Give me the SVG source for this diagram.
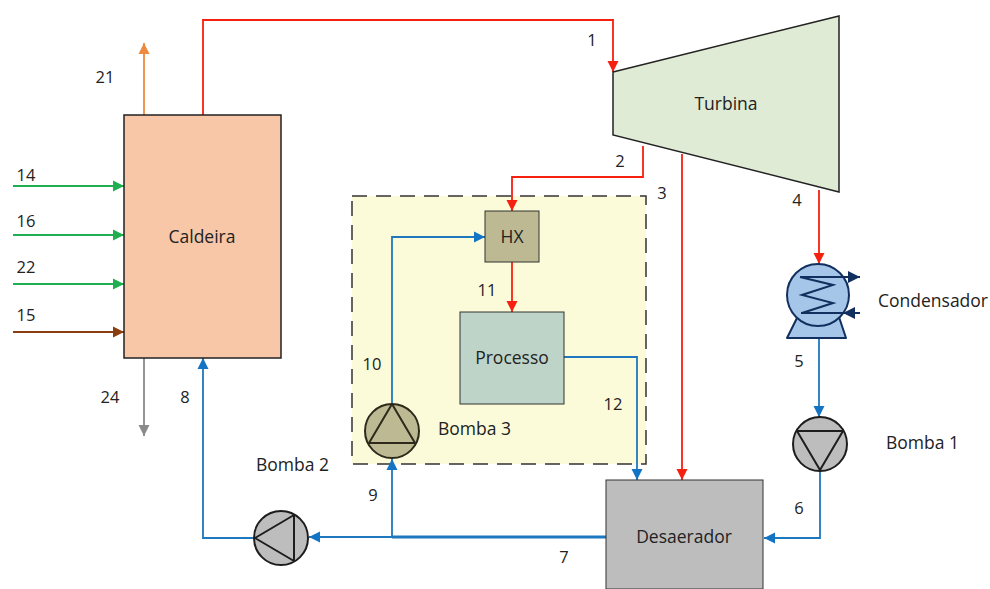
<svg xmlns="http://www.w3.org/2000/svg" width="990" height="589" viewBox="0 0 990 589">
<style>
text{font-family:"Open Sans","Liberation Sans",sans-serif;font-size:17.5px;fill:#222}
.n{font-size:16.5px}
.lab{text-anchor:middle}
.c{fill:none;stroke-width:1.8}
.r{stroke:#f5200f}.b{stroke:#1f78bd}.g{stroke:#1fae50}.o{stroke:#ed8a3f}.br{stroke:#8a3d0e}.y{stroke:#8a8a8a}
.box{stroke:#222;stroke-width:1.5}
.pump{stroke:#1d1d1d;stroke-width:2;fill:#bdbdbd}
.pl{fill:none;stroke:#1d1d1d;stroke-width:2;stroke-linejoin:round}
</style>
<defs>
<marker id="mr" markerUnits="userSpaceOnUse" markerWidth="12" markerHeight="12" refX="11" refY="6" orient="auto"><path d="M0 0.5L11 6L0 11.5Z" fill="#f5200f"/></marker>
<marker id="mb" markerUnits="userSpaceOnUse" markerWidth="12" markerHeight="12" refX="11" refY="6" orient="auto"><path d="M0 0.5L11 6L0 11.5Z" fill="#1474c4"/></marker>
<marker id="mg" markerUnits="userSpaceOnUse" markerWidth="12" markerHeight="12" refX="11" refY="6" orient="auto"><path d="M0 0.5L11 6L0 11.5Z" fill="#1fae50"/></marker>
<marker id="mo" markerUnits="userSpaceOnUse" markerWidth="12" markerHeight="12" refX="11" refY="6" orient="auto"><path d="M0 0.5L11 6L0 11.5Z" fill="#ed8a3f"/></marker>
<marker id="mbr" markerUnits="userSpaceOnUse" markerWidth="12" markerHeight="12" refX="11" refY="6" orient="auto"><path d="M0 0.5L11 6L0 11.5Z" fill="#8a3d0e"/></marker>
<marker id="my" markerUnits="userSpaceOnUse" markerWidth="12" markerHeight="12" refX="11" refY="6" orient="auto"><path d="M0 0.5L11 6L0 11.5Z" fill="#8a8a8a"/></marker>
<marker id="mn" markerUnits="userSpaceOnUse" markerWidth="14" markerHeight="14" refX="12" refY="7" orient="auto"><path d="M0 1L12 7L0 13Z" fill="#12305f"/></marker>
</defs>
<g id="volume3"><rect x="352" y="196" width="294" height="268" fill="#fbfbd9" stroke="#333" stroke-width="1.5" stroke-dasharray="15 9"/></g>
<g id="connectors">
<path class="c r" marker-end="url(#mr)" d="M203 115V20H613V72"/>
<path class="c r" marker-end="url(#mr)" d="M643 146V177H512V211"/>
<path class="c r" marker-end="url(#mr)" d="M512 262V312"/>
<path class="c r" marker-end="url(#mr)" d="M682 154V480"/>
<path class="c r" marker-end="url(#mr)" d="M819 190V264"/>
<path class="c b" marker-end="url(#mb)" d="M819 338V417"/>
<path class="c b" marker-end="url(#mb)" d="M820 470V538H764"/>
<path class="c b" marker-end="url(#mb)" d="M392 537H309"/>
<path class="c b" style="stroke-width:3" d="M606 537H392"/>
<path class="c b" marker-end="url(#mb)" d="M392 537V459"/>
<path class="c b" marker-end="url(#mb)" d="M392 404V237H485"/>
<path class="c b" marker-end="url(#mb)" d="M564 357H637V480"/>
<path class="c b" marker-end="url(#mb)" d="M255 538H203V358"/>
<path class="c o" marker-end="url(#mo)" d="M144 115V43"/>
<path class="c y" marker-end="url(#my)" d="M144 358V436"/>
<path class="c g" marker-end="url(#mg)" d="M13 186H124"/>
<path class="c g" marker-end="url(#mg)" d="M13 235H124"/>
<path class="c g" marker-end="url(#mg)" d="M13 284H124"/>
<path class="c br" marker-end="url(#mbr)" d="M13 332H124"/>
</g>
<g id="caldeira"><rect class="box" x="124" y="115" width="157" height="243" fill="#f7c7a8"/><text class="lab" x="202" y="243">Caldeira</text></g>
<g id="turbina"><path class="box" d="M613 72L839 16V192L613 135Z" fill="#dfebd4"/><text class="lab" x="726" y="110">Turbina</text></g>
<g id="hx"><rect x="485" y="211" width="54" height="51" fill="#bcb993" stroke="#333" stroke-width="1"/><text class="lab" x="512" y="243">HX</text></g>
<g id="processo"><rect x="460" y="312" width="104" height="92" fill="#bfd4c8" stroke="#333" stroke-width="1"/><text class="lab" x="512" y="364">Processo</text></g>
<g id="desaerador"><rect x="606" y="480" width="157" height="109" fill="#bdbdbd" stroke="#333" stroke-width="1"/><text class="lab" x="684" y="543">Desaerador</text></g>
<g id="condensador">
<path d="M787 338L799 314H838L846 338Z" fill="#a5c6e8" stroke="#12305f" stroke-width="2" stroke-linejoin="round"/>
<circle cx="818" cy="295" r="31" fill="#a5c6e8" stroke="#12305f" stroke-width="2"/>
<path d="M800 277H860" fill="none" stroke="#12305f" stroke-width="2" marker-end="url(#mn)"/>
<path d="M860 313H801" fill="none" stroke="#12305f" stroke-width="2"/>
<path d="M843 313L855 307V319Z" fill="#12305f"/>
<path d="M800 277L833 285L802 295L833 303L802 313" fill="none" stroke="#12305f" stroke-width="2"/>
<text x="878" y="307">Condensador</text>
</g>
<g id="bomba1"><circle class="pump" cx="820" cy="444" r="27"/><path class="pl" d="M797 431H843L820 470Z"/><text x="886" y="449">Bomba 1</text></g>
<g id="bomba2"><circle class="pump" cx="281" cy="538" r="27"/><path class="pl" d="M255 538L294 515V561Z"/><text x="256" y="471">Bomba 2</text></g>
<g id="bomba3"><circle cx="392" cy="431" r="27" fill="#bcb993" stroke="#2d2a1c" stroke-width="2"/><path d="M392 404L415 443H369Z" fill="none" stroke="#2d2a1c" stroke-width="2" stroke-linejoin="round"/><text x="438" y="435">Bomba 3</text></g>
<g id="labels">
<text class="lab n" x="592" y="46">1</text>
<text class="lab n" x="620" y="167">2</text>
<text class="lab n" x="662" y="199">3</text>
<text class="lab n" x="797" y="206">4</text>
<text class="lab n" x="799" y="367">5</text>
<text class="lab n" x="799" y="514">6</text>
<text class="lab n" x="564" y="563">7</text>
<text class="lab n" x="185" y="403">8</text>
<text class="lab n" x="373" y="501">9</text>
<text class="lab n" x="372" y="370">10</text>
<text class="lab n" x="487" y="296">11</text>
<text class="lab n" x="613" y="410">12</text>
<text class="lab n" x="26" y="181">14</text>
<text class="lab n" x="26" y="321">15</text>
<text class="lab n" x="26" y="227">16</text>
<text class="lab n" x="105" y="83">21</text>
<text class="lab n" x="26" y="273">22</text>
<text class="lab n" x="110" y="403">24</text>
</g>
</svg>
